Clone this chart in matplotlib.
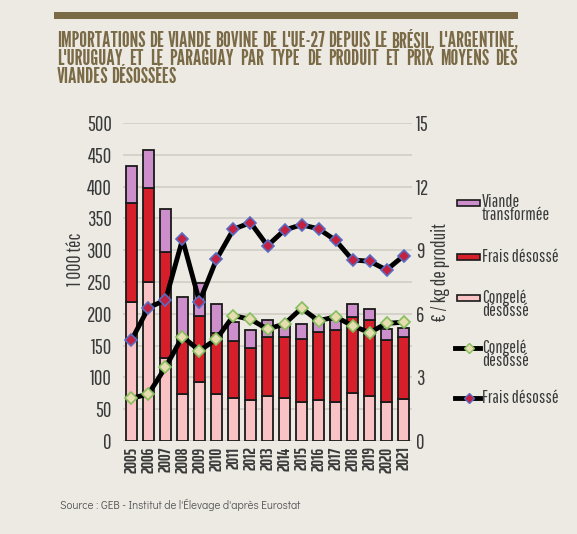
import matplotlib.pyplot as plt
import numpy as np
from matplotlib.lines import Line2D
from matplotlib.patches import Rectangle

COND = ['Pathway Gothic One', 'DejaVu Sans']
BOLD = ['Saira ExtraCondensed', 'DejaVu Sans']
HEAD = ['League Gothic', 'DejaVu Sans']
plt.rcParams['font.family'] = COND

years = [str(y) for y in range(2005, 2022)]

# volumes, 1 000 téc
congele_vol = [218, 250, 130, 74, 92, 74, 68, 64, 70, 68, 62, 64, 61, 75, 70, 61, 66]
frais_vol = [157, 148, 167, 86, 105, 96, 89, 83, 94, 95, 98, 108, 114, 120, 120, 98, 98]
transf_vol = [58, 60, 68, 67, 52, 45, 30, 27, 26, 19, 24, 22, 15, 20, 17, 17, 13]

# prix moyens, € / kg de produit
prix_frais = [4.76, 6.29, 6.65, 9.51, 6.57, 8.57, 9.99, 10.3, 9.21, 9.95, 10.2, 10.01,
              9.47, 8.54, 8.48, 8.07, 8.73]
prix_congele = [2.01, 2.22, 3.48, 4.92, 4.26, 4.81, 5.91, 5.74, 5.28, 5.52, 6.26, 5.67,
                5.86, 5.44, 5.11, 5.55, 5.6]

bg = '#ECEAE3'
c_pink = '#F9C3C6'
c_red = '#D71F2C'
c_purple = '#CC8FCB'
olive = '#7A6A46'
txt = '#3A3A3A'
congele_face, congele_edge = '#E6DDB0', '#86BE5C'
frais_face, frais_edge = '#C42040', '#5A6CC0'

W, H = 577, 534
fig = plt.figure(figsize=(W / 100, H / 100), dpi=100, facecolor=bg)
ax = fig.add_axes([123 / W, 1 - 441 / H, 289 / W, 318 / H])
ax.set_facecolor(bg)


def fy(py):
    return 1 - py / H


x = np.arange(len(years))
w = 0.66
b1 = np.array(congele_vol)
b2 = b1 + np.array(frais_vol)
bar_kw = dict(width=w, edgecolor='#1a1a1a', linewidth=1.3, zorder=2)
ax.bar(x, congele_vol, color=c_pink, **bar_kw)
ax.bar(x, frais_vol, bottom=b1, color=c_red, **bar_kw)
ax.bar(x, transf_vol, bottom=b2, color=c_purple, **bar_kw)

ax.set_xlim(-0.5, len(years) - 0.5)
ax.set_ylim(0, 500)
ax.set_yticks(np.arange(0, 501, 50))
ax.yaxis.grid(True, color='#D3D0C8', linewidth=1.3, zorder=0)
ax.set_axisbelow(True)
ax.set_xticks(x)
ax.set_xticklabels(years, rotation=90, fontsize=12, fontweight='bold', color=txt,
                   family=BOLD)
ax.tick_params(axis='both', length=0)
ax.tick_params(axis='x', pad=4)
ax.tick_params(axis='y', labelsize=15, colors=txt, pad=8)
for s in ax.spines.values():
    s.set_visible(False)
ax.set_ylabel('1 000 téc', fontsize=14, color=txt, labelpad=1, y=0.57)

ax2 = ax.twinx()
ax2.set_ylim(0, 15)
ax2.set_yticks([0, 3, 6, 9, 12, 15])
ax2.tick_params(axis='y', length=0, labelsize=15, colors=txt, pad=3)
for s in ax2.spines.values():
    s.set_visible(False)
ax2.set_ylabel('€ / kg de produit', fontsize=14, color=txt, labelpad=1, y=0.53)

line_kw = dict(color='black', linewidth=3.5, marker='D', markersize=6,
               markeredgewidth=1.2, zorder=4)
ax2.plot(x, prix_congele, markerfacecolor=congele_face, markeredgecolor=congele_edge,
         **line_kw)
ax2.plot(x, prix_frais, markerfacecolor=frais_face, markeredgecolor=frais_edge, **line_kw)

# legend on the right
lx0, lx1 = 457 / W, 480 / W
tx = 482 / W


def legend_label(py, label):
    if '\n' in label:
        fig.text(tx, fy(py) + 9 / H, label, fontsize=13, color=txt, va='top',
                 linespacing=0.8)
    else:
        fig.text(tx, fy(py), label, fontsize=13, color=txt, va='center')


for py, col, label in [(203, c_purple, 'Viande\ntransformée'),
                       (257, c_red, 'Frais désossé'),
                       (298, c_pink, 'Congelé\ndésossé')]:
    fig.patches.append(Rectangle((lx0, fy(py) - 3 / H), lx1 - lx0, 6 / H,
                                 transform=fig.transFigure, facecolor=col,
                                 edgecolor='#1a1a1a', linewidth=1.2))
    legend_label(py, label)

for py, fc, ec, label in [(348, congele_face, congele_edge, 'Congelé\ndésossé'),
                          (398, frais_face, frais_edge, 'Frais désossé')]:
    fig.lines.append(Line2D([lx0 - 2 / W, lx1], [fy(py), fy(py)],
                            transform=fig.transFigure, color='black', linewidth=3.5))
    fig.lines.append(Line2D([(lx0 + lx1) / 2], [fy(py)], transform=fig.transFigure,
                            linestyle='none', marker='D', markersize=5,
                            markerfacecolor=fc, markeredgecolor=ec))
    legend_label(py, label)

# title block, justified between the rule's ends
fig.patches.append(Rectangle((54 / W, fy(18.5)), 464 / W, 6 / H,
                             transform=fig.transFigure, facecolor=olive, edgecolor='none'))
title_lines = ["IMPORTATIONS DE VIANDE BOVINE DE L'UE-27 DEPUIS LE BRÉSIL, L'ARGENTINE,",
               "L'URUGUAY ET LE PARAGUAY PAR TYPE DE PRODUIT ET PRIX MOYENS DES",
               "VIANDES DÉSOSSÉES"]
renderer = fig.canvas.get_renderer()
left_px, right_px = 57, 518
min_gap = 3.0

# font size that lets the first line fill the width with tight spacing
probe = [fig.text(0, 0, wd, fontsize=15, family=HEAD)
         for wd in title_lines[0].split(' ')]
total = sum(a.get_window_extent(renderer).width for a in probe)
for a in probe:
    a.remove()
title_fs = min(15 * (right_px - left_px - min_gap * (len(probe) - 1)) / total, 16.5)

for i, line in enumerate(title_lines):
    ypos = fy(41 + i * 18)
    words = line.split(' ')
    arts = [fig.text(0, ypos, wd, fontsize=title_fs, color=olive,
                     va='center', ha='left', family=HEAD) for wd in words]
    widths = [a.get_window_extent(renderer).width for a in arts]
    if i < len(title_lines) - 1:
        gap = (right_px - left_px - sum(widths)) / (len(words) - 1)
    else:
        gap = min_gap
    xp = left_px
    for a, wd in zip(arts, widths):
        a.set_x(xp / W)
        xp += wd + gap

fig.text(60 / W, fy(505), "Source : GEB - Institut de l'Élevage d'après Eurostat",
         fontsize=8, color='#555555', va='center', family=['Didact Gothic', 'DejaVu Sans'])

fig.savefig('out.png', dpi=100, facecolor=bg)
